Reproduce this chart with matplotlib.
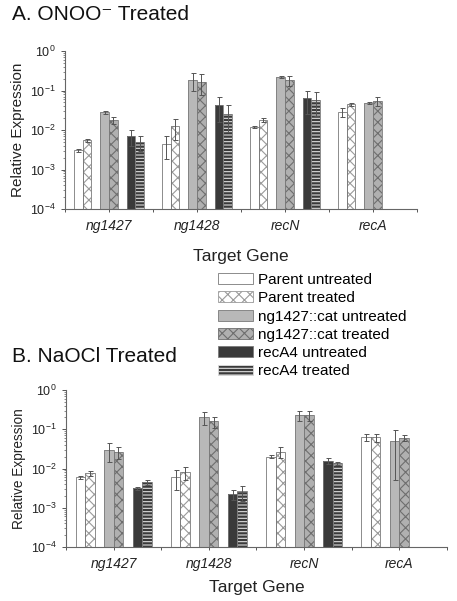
import numpy as np
import matplotlib
matplotlib.use("Agg")
import matplotlib.pyplot as plt
from matplotlib.patches import Patch
from matplotlib.ticker import LogLocator, FixedLocator, NullFormatter

plt.rcParams['font.family'] = ['Liberation Sans', 'DejaVu Sans']
plt.rcParams['mathtext.default'] = 'regular'
plt.rcParams['hatch.linewidth'] = 0.8

genes = ["ng1427", "ng1428", "recN", "recA"]
series_names = ["Parent untreated", "Parent treated", "ng1427::cat untreated",
                "ng1427::cat treated", "recA4 untreated", "recA4 treated"]

# Panel A: ONOO- treated
onoo_parent_untreated = [3.0e-3, 4.4e-3, 1.2e-2, 2.9e-2]
onoo_parent_treated = [5.5e-3, 1.25e-2, 1.8e-2, 4.5e-2]
onoo_cat_untreated = [2.8e-2, 0.19, 0.22, 4.8e-2]
onoo_cat_treated = [1.8e-2, 0.165, 0.18, 5.5e-2]
onoo_reca4_untreated = [7.0e-3, 0.043, 0.063, np.nan]
onoo_reca4_treated = [4.9e-3, 0.026, 0.058, np.nan]
onoo_parent_untreated_err = [0.3e-3, 2.5e-3, 1.0e-3, 8e-3]
onoo_parent_treated_err = [0.5e-3, 7e-3, 2e-3, 4e-3]
onoo_cat_untreated_err = [2e-3, 0.09, 0.01, 3e-3]
onoo_cat_treated_err = [4e-3, 0.09, 0.05, 1.5e-2]
onoo_reca4_untreated_err = [3e-3, 0.027, 0.037, np.nan]
onoo_reca4_treated_err = [2e-3, 0.017, 0.035, np.nan]

# Panel B: NaOCl treated
naocl_parent_untreated = [6.0e-3, 5.9e-3, 0.020, 0.064]
naocl_parent_treated = [7.5e-3, 8.1e-3, 0.027, 0.062]
naocl_cat_untreated = [0.030, 0.20, 0.23, 0.050]
naocl_cat_treated = [0.026, 0.16, 0.23, 0.060]
naocl_reca4_untreated = [3.1e-3, 2.2e-3, 0.0155, np.nan]
naocl_reca4_treated = [4.5e-3, 2.5e-3, 0.0135, np.nan]
naocl_parent_untreated_err = [0.5e-3, 3e-3, 1.5e-3, 0.013]
naocl_parent_treated_err = [1e-3, 3e-3, 8e-3, 0.015]
naocl_cat_untreated_err = [0.015, 0.07, 0.07, 0.045]
naocl_cat_treated_err = [0.009, 0.05, 0.07, 0.01]
naocl_reca4_untreated_err = [0.2e-3, 0.6e-3, 2.5e-3, np.nan]
naocl_reca4_treated_err = [0.6e-3, 1e-3, 1e-3, np.nan]

styles = [
    dict(fc="white", hatch=None, hc="#999999"),
    dict(fc="white", hatch="xxx", hc="#9a9a9a"),
    dict(fc="#b8b8b8", hatch=None, hc="#999999"),
    dict(fc="#b0b0b0", hatch="xxx", hc="#6e6e6e"),
    dict(fc="#3a3a3a", hatch=None, hc="#222222"),
    dict(fc="#3a3a3a", hatch="-----", hc="#dddddd"),
]
offsets = [-0.35, -0.25, -0.05, 0.05, 0.25, 0.35]
width = 0.1

fig = plt.figure(figsize=(4.57, 6.01), dpi=100)
axA = fig.add_axes([0.1422, 0.6522, 0.7703, 0.2629])
axB = fig.add_axes([0.1444, 0.0898, 0.8336, 0.2613])


def draw(ax, data, errs, ylabel_size, xlabel_pad):
    x = np.arange(len(genes))
    for i, (vals, err) in enumerate(zip(data, errs)):
        st = styles[i]
        v = np.array(vals, dtype=float)
        e = np.array(err, dtype=float)
        m = ~np.isnan(v)
        xs = x[m] + offsets[i]
        ax.bar(xs, v[m], width, bottom=1e-4, color=st["fc"], hatch=st["hatch"],
               edgecolor=st["hc"], linewidth=0, zorder=2)
        ax.bar(xs, v[m], width, bottom=1e-4, fill=False, edgecolor="#7a7a7a",
               linewidth=0.6, zorder=3)
        ax.errorbar(xs, v[m], yerr=e[m], fmt="none", ecolor="#555555",
                    elinewidth=0.7, capsize=1.8, capthick=0.7, zorder=4)
    ax.set_yscale("log")
    ax.set_ylim(1e-4, 1)
    ax.set_xlim(-0.5, len(genes) - 0.5)
    ax.yaxis.set_major_locator(LogLocator(base=10, numticks=10))
    ax.yaxis.set_minor_locator(LogLocator(base=10, subs=np.arange(2, 10), numticks=10))
    ax.yaxis.set_minor_formatter(NullFormatter())
    ax.set_xticks(x)
    ax.set_xticklabels(genes, fontstyle="italic", fontsize=10)
    ax.xaxis.set_minor_locator(FixedLocator(np.arange(-0.5, len(genes), 1.0)))
    ax.tick_params(axis="x", which="major", length=2.5, width=0.7, colors="#555555",
                   labelcolor="#222222", pad=5)
    ax.tick_params(axis="x", which="minor", length=2.5, width=0.7, colors="#555555")
    ax.tick_params(axis="y", which="major", length=3, width=0.7, colors="#555555",
                   labelcolor="#222222", labelsize=9)
    ax.tick_params(axis="y", which="minor", length=1.5, width=0.6, colors="#777777")
    for s in ["top", "right"]:
        ax.spines[s].set_visible(False)
    for s in ["left", "bottom"]:
        ax.spines[s].set_color("#666666")
        ax.spines[s].set_linewidth(0.8)
    ax.set_xlabel("Target Gene", fontsize=12.5, color="#222222", labelpad=xlabel_pad)
    ax.set_ylabel("Relative Expression", fontsize=ylabel_size, color="#222222", labelpad=4)


draw(axA,
     [onoo_parent_untreated, onoo_parent_treated, onoo_cat_untreated,
      onoo_cat_treated, onoo_reca4_untreated, onoo_reca4_treated],
     [onoo_parent_untreated_err, onoo_parent_treated_err, onoo_cat_untreated_err,
      onoo_cat_treated_err, onoo_reca4_untreated_err, onoo_reca4_treated_err],
     11, 11)
draw(axB,
     [naocl_parent_untreated, naocl_parent_treated, naocl_cat_untreated,
      naocl_cat_treated, naocl_reca4_untreated, naocl_reca4_treated],
     [naocl_parent_untreated_err, naocl_parent_treated_err, naocl_cat_untreated_err,
      naocl_cat_treated_err, naocl_reca4_untreated_err, naocl_reca4_treated_err],
     9.8, 6)

fig.text(12 / 457, 1 - 15 / 601, "A. ONOO\u207b Treated", fontsize=15,
         va="center", ha="left", color="#111111")
fig.text(12 / 457, 1 - 356 / 601, "B. NaOCl Treated", fontsize=15,
         va="center", ha="left", color="#111111")

handles = [Patch(facecolor=st["fc"], hatch=st["hatch"], edgecolor=st["hc"] if st["hatch"] else "#7a7a7a",
                 linewidth=0.6) for st in styles]
fig.legend(handles, series_names, loc="upper left",
           bbox_to_anchor=(218 / 457, 1 - 273 / 601), frameon=False,
           fontsize=11, handlelength=2.3, handleheight=0.72, handletextpad=0.33,
           labelspacing=0.28, borderpad=0, borderaxespad=0)

fig.savefig("out.png", dpi=100)
